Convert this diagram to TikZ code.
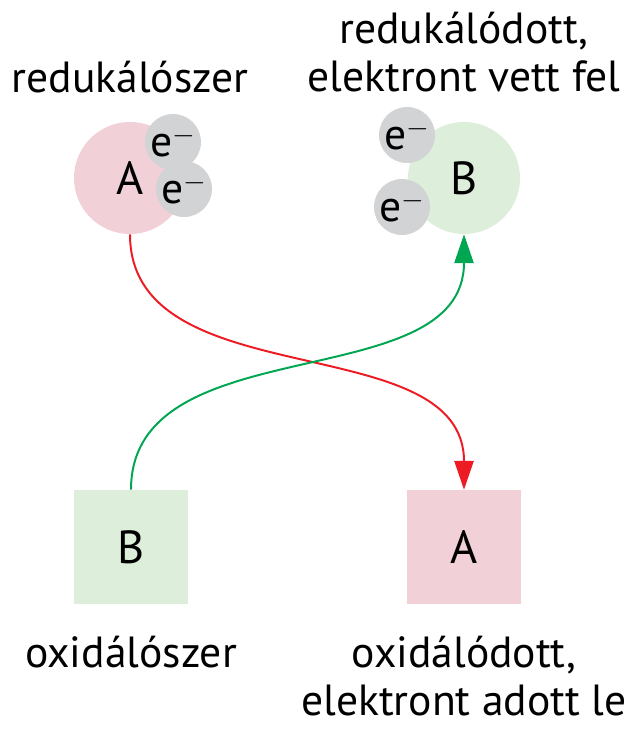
\documentclass[tikz,border=0pt]{standalone}
\usepackage{fontspec}
\setmainfont{PT Sans}
\usepackage{xcolor}
\usepackage{tikz}
\usetikzlibrary{arrows.meta}

\definecolor{redpink}{HTML}{F1D0D7}
\definecolor{palegreen}{HTML}{DDEEDA}
\definecolor{elgray}{HTML}{D1D3D4}
\definecolor{arrred}{HTML}{ED1C24}
\definecolor{arrgreen}{HTML}{00A651}

\tikzset{
  atom/.style={circle, inner sep=0pt, minimum size=2.8cm, font=\fontsize{33}{36}\selectfont},
  electron/.style={circle, fill=elgray, inner sep=0pt, minimum size=1.4cm},
  box/.style={inner sep=0pt, minimum size=2.85cm, font=\fontsize{33}{36}\selectfont},
  label/.style={align=center, anchor=base},
  flow/.style={line width=1.4pt, -{Triangle[length=0.72cm, width=0.48cm]}}
}

\begin{document}
\begin{tikzpicture}[x=0.025cm, y=-0.025cm, font=\fontsize{31}{34}\selectfont]
    \useasboundingbox (0,0) rectangle (639,738);
    % Reducing agent and its electrons
    \node[atom, fill=redpink] (redA) at (130,178) {A};
    \node[electron] (eA1) at (173,142) {e$^{-}$};
    \node[electron] (eA2) at (184,189) {e$^{-}$};
    % Reduced B with the taken electrons
    \node[atom, fill=palegreen] (redB) at (464,178) {B};
    \node[electron] (eB1) at (407,135) {e$^{-}$};
    \node[electron] (eB2) at (402,207) {e$^{-}$};
    % Oxidizing agent and oxidized A
    \node[box, fill=palegreen] (oxB) at (131,547) {B};
    \node[box, fill=redpink] (oxA) at (464,547) {A};
    % Labels (base = last line)
    \node[label] (lredA) at (130,92) {redukálószer};
    \node[label] (lredB) at (464,91) {redukálódott,\\elektront vett fel};
    \node[label] (loxB) at (131,667) {oxidálószer};
    \node[label] (loxA) at (464,715) {oxidálódott,\\elektront adott le};
    % Electron transfer
    \draw[flow, arrred] (redA.south) to[out=-90, in=90] (oxA.north);
    \draw[flow, arrgreen] (oxB.north) to[out=90, in=-90] (redB.south);
  \end{tikzpicture}
\end{document}
